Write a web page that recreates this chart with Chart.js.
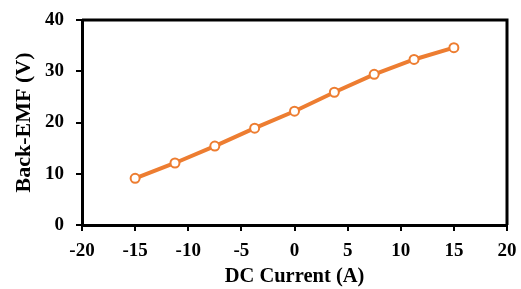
<!DOCTYPE html>
<html>
<head>
<meta charset="utf-8">
<script src="https://cdn.jsdelivr.net/npm/chart.js@4/dist/chart.umd.min.js"></script>
<style>
  html, body { margin: 0; padding: 0; background: #fff; }
  #wrap { width: 521px; height: 289px; }
</style>
</head>
<body>
<div id="wrap"><canvas id="emfChart"></canvas></div>
<script>
// DC current (A) and measured back-EMF (V)
const currents = [-15, -11.25, -7.5, -3.75, 0, 3.75, 7.5, 11.25, 15];
const backEmf = [9.1, 12.1, 15.4, 18.9, 22.2, 25.9, 29.4, 32.3, 34.6];
const xTicks = [-20, -15, -10, -5, 0, 5, 10, 15, 20];
const yTicks = [0, 10, 20, 30, 40];

const orange = '#ED7D31';
const serif = "'Liberation Serif', 'Times New Roman', serif";

// top and right edges of the plot frame
const frame = {
    id: 'frame',
    afterDraw(chart) {
        const { ctx, chartArea: a } = chart;
        ctx.save();
        ctx.strokeStyle = '#000';
        ctx.lineWidth = 3;
        ctx.beginPath();
        ctx.moveTo(a.left, a.top);
        ctx.lineTo(a.right, a.top);
        ctx.lineTo(a.right, a.bottom);
        ctx.stroke();
        ctx.restore();
    }
};

// keep the plot box where the reference has it, whatever the label overhang
const noOverhang = s => {
    s.paddingLeft = 0;
    s.paddingRight = 0;
    s.paddingTop = 0;
    s.paddingBottom = 0;
};

const emfCtx = document.getElementById('emfChart').getContext('2d');
const emfChart = new Chart(emfCtx, {
    type: 'scatter',
    data: {
        datasets: [{
            data: currents.map((c, i) => ({ x: c, y: backEmf[i] })),
            showLine: true,
            borderColor: orange,
            borderWidth: 4,
            pointRadius: 4.5,
            pointBorderWidth: 2,
            pointBackgroundColor: '#fff',
            pointBorderColor: orange
        }]
    },
    plugins: [frame],
    options: {
        responsive: true,
        maintainAspectRatio: false,
        animation: false,
        layout: { padding: { top: 20, right: 14, left: 0, bottom: 0 } },
        plugins: {
            legend: { display: false },
            tooltip: { enabled: false }
        },
        scales: {
            x: {
                type: 'linear',
                min: -20,
                max: 20,
                afterBuildTicks: s => { s.ticks = xTicks.map(v => ({ value: v })); },
                afterFit: s => { s.height = 64; noOverhang(s); },
                grid: { display: true, drawOnChartArea: false, drawTicks: true, tickLength: 6, color: '#000', lineWidth: 2 },
                border: { display: true, color: '#000', width: 3 },
                ticks: { color: '#000', padding: 9, maxRotation: 0, font: { family: serif, size: 19, weight: 'bold' } },
                title: { display: true, text: 'DC Current (A)', color: '#000', padding: { top: 0, bottom: 0 }, font: { family: serif, size: 20.5, weight: 'bold' } }
            },
            y: {
                min: 0,
                max: 40,
                afterBuildTicks: s => { s.ticks = yTicks.map(v => ({ value: v })); },
                afterFit: s => { s.width = 82; noOverhang(s); },
                grid: { display: true, drawOnChartArea: false, drawTicks: true, tickLength: 6, color: '#000', lineWidth: 2 },
                border: { display: true, color: '#000', width: 3 },
                ticks: { color: '#000', padding: 12, font: { family: serif, size: 19, weight: 'bold' } },
                title: { display: true, text: 'Back-EMF (V)', color: '#000', padding: { top: 11, bottom: 0 }, font: { family: serif, size: 22, weight: 'bold' } }
            }
        }
    }
});
</script>
</body>
</html>
